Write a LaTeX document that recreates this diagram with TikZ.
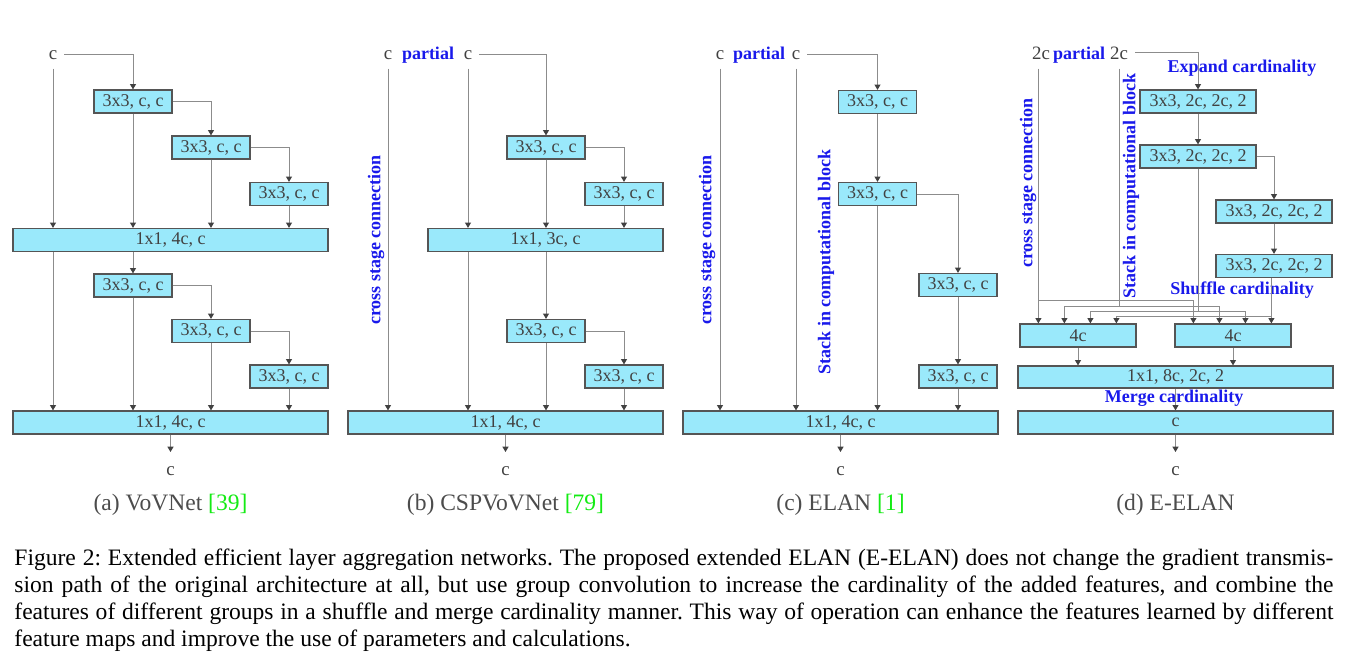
\documentclass[tikz,border=0pt]{standalone}
\usepackage{fontspec}
\setmainfont{Liberation Serif}
\usetikzlibrary{arrows.meta,calc}
\frenchspacing

\definecolor{cellfill}{RGB}{154,233,251}
\definecolor{cellline}{RGB}{85,85,85}
\definecolor{wiregray}{RGB}{140,140,140}
\definecolor{inkgray}{RGB}{65,65,65}
\definecolor{noteblue}{RGB}{25,25,235}
\definecolor{citegreen}{RGB}{20,235,20}

\tikzset{
  cell/.style={draw=cellline, fill=cellfill, line width=0.55pt, inner sep=0pt,
    minimum width=35.1pt, minimum height=10.35pt, text=inkgray,
    font=\fontsize{8.1}{9}\selectfont},
  widecell/.style={cell, minimum width=141.75pt},
  gcell/.style={cell, minimum width=52.2pt},
  feed/.style={draw=wiregray, line width=0.45pt,
    -{Triangle[length=2.4pt,width=2.7pt,color=inkgray]}},
  wire/.style={draw=wiregray, line width=0.45pt},
  inlbl/.style={anchor=base, text=inkgray, inner xsep=3pt, inner ysep=4pt,
    font=\fontsize{8.5}{9}\selectfont},
  outlbl/.style={text=inkgray, inner xsep=2pt, inner ysep=6.3pt,
    font=\fontsize{8.5}{9}\selectfont},
  note/.style={text=noteblue, inner sep=1pt, font=\bfseries\fontsize{8.1}{9}\selectfont},
  vnote/.style={note, rotate=90},
  subcap/.style={anchor=base, text=black!70, font=\fontsize{10.6}{12}\selectfont},
}

\begin{document}
\begin{tikzpicture}[x=0.45pt, y=-0.45pt]
\useasboundingbox (0,0) rectangle (1350,660);

% (a) VoVNet
\node[inlbl] (inA) at (53,59) {c};
\node[cell] (a1) at (133,101.5) {3x3, c, c};
\node[cell] (a2) at (211,147.5) {3x3, c, c};
\node[cell] (a3) at (289,194) {3x3, c, c};
\node[widecell] (a4) at (170.5,240) {1x1, 4c, c};
\node[cell] (a5) at (133,285.5) {3x3, c, c};
\node[cell] (a6) at (211,331) {3x3, c, c};
\node[cell] (a7) at (289,376.5) {3x3, c, c};
\node[widecell] (a8) at (170.5,422.5) {1x1, 4c, c};
\node[outlbl] (outA) at (170.5,471) {c};

\draw[feed] (inA.east) -| (a1.north);
\draw[feed] (inA.south) -- (inA |- a4.north);
\draw[feed] (a1.east) -| (a2.north);
\draw[feed] (a2.east) -| (a3.north);
\foreach \n in {a1,a2,a3} \draw[feed] (\n.south) -- (\n |- a4.north);
\draw[feed] (inA |- a4.south) -- (inA |- a8.north);
\draw[feed] (a5 |- a4.south) -- (a5.north);
\draw[feed] (a5.east) -| (a6.north);
\draw[feed] (a6.east) -| (a7.north);
\foreach \n in {a5,a6,a7} \draw[feed] (\n.south) -- (\n |- a8.north);
\draw[feed] (a8.south) -- (outA.north);

\node[subcap] (capA) at (170.5,510) {(a) VoVNet \textcolor{citegreen}{[39]}};

% (b) CSPVoVNet
\node[inlbl] (inB1) at (388,59) {c};
\node[note, anchor=base] (partB) at (428,59) {partial};
\node[inlbl] (inB2) at (468,59) {c};
\node[cell] (b1) at (546,147.5) {3x3, c, c};
\node[cell] (b2) at (624,194) {3x3, c, c};
\node[cell, minimum width=105.75pt] (b3) at (545.5,240) {1x1, 3c, c};
\node[cell] (b4) at (546,331) {3x3, c, c};
\node[cell] (b5) at (624,376.5) {3x3, c, c};
\node[widecell] (b6) at (505.5,422.5) {1x1, 4c, c};
\node[outlbl] (outB) at (505.5,471) {c};
\node[vnote] (csB) at (376,240) {cross stage connection};

\draw[feed] (inB2.east) -| (b1.north);
\draw[feed] (inB2.south) -- (inB2 |- b3.north);
\draw[feed] (inB1.south) -- (inB1 |- b6.north);
\draw[feed] (b1.east) -| (b2.north);
\foreach \n in {b1,b2} \draw[feed] (\n.south) -- (\n |- b3.north);
\draw[feed] (inB2 |- b3.south) -- (inB2 |- b6.north);
\draw[feed] (b4 |- b3.south) -- (b4.north);
\draw[feed] (b4.east) -| (b5.north);
\foreach \n in {b4,b5} \draw[feed] (\n.south) -- (\n |- b6.north);
\draw[feed] (b6.south) -- (outB.north);

\node[subcap] (capB) at (505.5,510) {(b) CSPVoVNet \textcolor{citegreen}{[79]}};

% (c) ELAN
\node[inlbl] (inC1) at (720,59) {c};
\node[note, anchor=base] (partC) at (759,59) {partial};
\node[inlbl] (inC2) at (796,59) {c};
\node[cell] (c1) at (877.5,102) {3x3, c, c};
\node[cell] (c2) at (877.5,194) {3x3, c, c};
\node[cell] (c3) at (958,285) {3x3, c, c};
\node[cell] (c4) at (958,376.5) {3x3, c, c};
\node[widecell] (c5) at (840.5,422.5) {1x1, 4c, c};
\node[outlbl] (outC) at (840.5,471) {c};
\node[vnote] (csC) at (707,240) {cross stage connection};
\node[vnote] (stC) at (826,262) {Stack in computational block};

\draw[feed] (inC2.east) -| (c1.north);
\draw[feed] (c1.south) -- (c2.north);
\draw[feed] (c2.east) -| (c3.north);
\draw[feed] (c3.south) -- (c4.north);
\foreach \n in {inC1,inC2,c2,c4} \draw[feed] (\n.south) -- (\n |- c5.north);
\draw[feed] (c5.south) -- (outC.north);

\node[subcap] (capC) at (840.5,510) {(c) ELAN \textcolor{citegreen}{[1]}};

% (d) E-ELAN
\node[inlbl] (inD1) at (1041,59) {2c};
\node[note, anchor=base] (partD) at (1079,59) {partial};
\node[inlbl] (inD2) at (1119,59) {2c};
\node[note] (expD) at (1242,68) {Expand cardinality};
\node[gcell] (d1) at (1198,101.5) {3x3, 2c, 2c, 2};
\node[gcell] (d2) at (1198,156.5) {3x3, 2c, 2c, 2};
\node[gcell] (d3) at (1274,211.5) {3x3, 2c, 2c, 2};
\node[gcell] (d4) at (1274,266) {3x3, 2c, 2c, 2};
\node[note] (shfD) at (1242,290) {Shuffle cardinality};
\node[gcell] (e1) at (1078,335.5) {4c};
\node[gcell] (e2) at (1233,335.5) {4c};
\node[widecell, minimum height=9.9pt] (f1) at (1175.5,377) {1x1, 8c, 2c, 2};
\node[widecell] (g1) at (1175.5,422.5) {c};
\node[outlbl] (outD) at (1175.5,471) {c};
\node[vnote] (csD) at (1028,183) {cross stage connection};
\node[vnote] (stD) at (1131,186) {Stack in computational block};

\draw[feed] (inD2.east) -| (d1.north);
\draw[feed] (d1.south) -- (d2.north);
\draw[feed] (d2.east) -| (d3.north);
\draw[feed] (d3.south) -- (d4.north);

% shuffle wiring
\foreach \k/\dx/\lev in {1/19/300,2/45/306,3/71/311,4/97/316} {
  \coordinate (p\k) at ($(e1.north west)+(\dx,0)$);
  \coordinate (q\k) at ($(e2.north west)+(\dx,0)$);
  \coordinate (lev\k) at (0,\lev);
}
\draw[wire] (p1 |- inD1.south) -- (p1 |- lev1);
\draw[wire] (inD2.south) -- (inD2 |- lev2);
\draw[wire] (d2.south) -- (d2 |- lev3);
\draw[wire] (q4 |- d4.south) -- (q4 |- lev4);
\foreach \k in {1,...,4} {
  \draw[wire] (p\k |- lev\k) -- (q\k |- lev\k);
  \draw[feed] (p\k |- lev\k) -- (p\k);
  \draw[feed] (q\k |- lev\k) -- (q\k);
}

\draw[feed] (e1.south) -- (e1 |- f1.north);
\draw[feed] (e2.south) -- (e2 |- f1.north);
\node[note] (mrgD) at (1174,398) {Merge cardinality};
\draw[feed] (f1.south) -- (g1.north);
\draw[feed] (g1.south) -- (outD.north);

\node[subcap] (capD) at (1175.5,510) {(d) E-ELAN};

% caption
\node[anchor=north west, inner sep=0pt, text width=593.55pt, align=justify,
  font=\fontsize{10.6}{12.15}\selectfont] (cap) at (14,548)
  {Figure 2: Extended efficient layer aggregation networks. The proposed extended ELAN (E-ELAN) does not change the gradient transmis-\linebreak sion path of the original architecture at all, but use group convolution to increase the cardinality of the added features, and combine the\linebreak features of different groups in a shuffle and merge cardinality manner. This way of operation can enhance the features learned by different\linebreak feature maps and improve the use of parameters and calculations.};

\end{tikzpicture}
\end{document}
